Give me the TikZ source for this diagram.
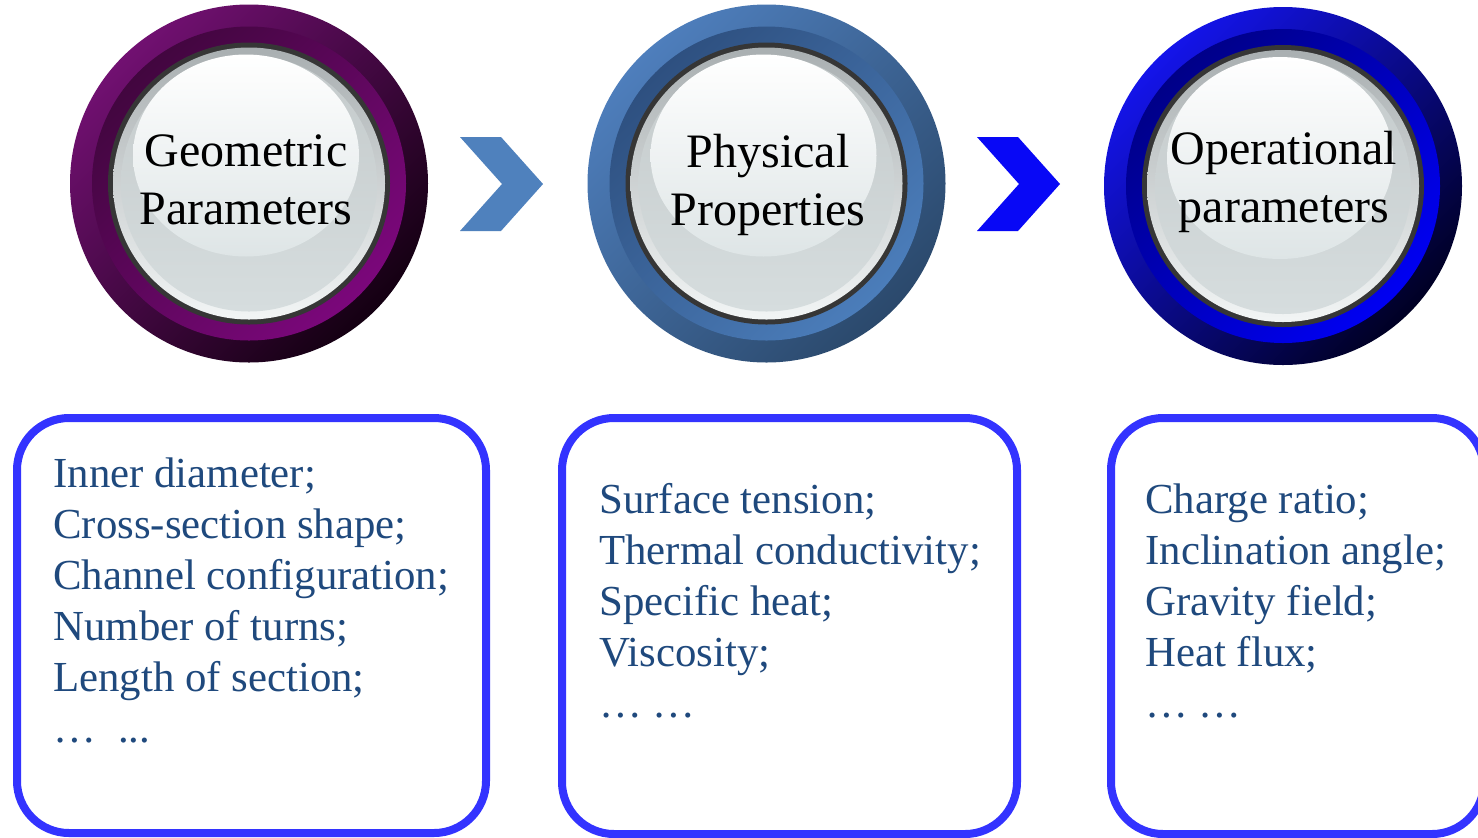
\documentclass[tikz,border=0pt]{standalone}
\usepackage{fontspec}
\setmainfont{Liberation Serif}
\begin{document}
\begin{tikzpicture}[x=0.5pt,y=-0.5pt]
% ---------- colours ----------
\definecolor{plumA}{HTML}{711071}
\definecolor{plumB}{HTML}{140012}
\definecolor{plumC}{HTML}{42063F}
\definecolor{plumD}{HTML}{7B077B}
\definecolor{steelA}{HTML}{4E7EBC}
\definecolor{steelB}{HTML}{2B496C}
\definecolor{steelC}{HTML}{2E5080}
\definecolor{steelD}{HTML}{4B7DBA}
\definecolor{royalA}{HTML}{1414EA}
\definecolor{royalB}{HTML}{000024}
\definecolor{royalC}{HTML}{000088}
\definecolor{royalD}{HTML}{0000F2}
\definecolor{rimdark}{HTML}{363636}
\definecolor{rimtop}{HTML}{A9AFB1}
\definecolor{rimbottom}{HTML}{F2F5F5}
\definecolor{facetop}{HTML}{C4CACB}
\definecolor{facebottom}{HTML}{D6DDDE}
\definecolor{glowbottom}{HTML}{DEE5E6}
\definecolor{chevA}{HTML}{4F81BD}
\definecolor{chevB}{HTML}{0808F6}
\definecolor{boxblue}{HTML}{3333FF}
\definecolor{listblue}{HTML}{1F497D}
% ---------- styles ----------
\tikzset{
  buttonlabel/.style={anchor=base, inner sep=0pt, text=black,
    font=\fontsize{24}{29}\selectfont},
  listbox/.style={draw=boxblue, line width=4pt, rounded corners=26pt,
    inner sep=0pt},
  listtext/.style={anchor=base west, inner sep=0pt, text=listblue,
    font=\fontsize{21.4}{25.5}\selectfont},
}
% glossy round button: centre, outer ring colours, inner ring colours
\newcommand{\glassbutton}[5]{%
  \shade[top color=#2, bottom color=#3, shading angle=45] (#1) circle[radius=89.5pt];
  \shade[top color=#4, bottom color=#5, shading angle=45] (#1) circle[radius=78.5pt];
  \fill[rimdark] (#1) circle[radius=70.5pt];
  \shade[top color=rimtop, bottom color=rimbottom] (#1) circle[radius=68pt];
  \shade[top color=facetop, bottom color=facebottom] (#1) circle[radius=64pt];
  \shade[top color=white, bottom color=glowbottom] ([shift={(-3,-28)}]#1)
    ellipse[x radius=56.5pt, y radius=50.5pt];
}
\useasboundingbox (0,0) rectangle (1478,837);
\fill[white] (0,0) rectangle (1478,837);

% ---------- buttons ----------
\coordinate (c1) at (249,183.5);
\coordinate (c2) at (766.5,183.5);
\coordinate (c3) at (1283,186);
\glassbutton{c1}{plumA}{plumB}{plumC}{plumD}
\glassbutton{c2}{steelA}{steelB}{steelC}{steelD}
\glassbutton{c3}{royalA}{royalB}{royalC}{royalD}

\node[buttonlabel] (t1) at (246,166) {\parbox[t]{170pt}{\centering Geometric\\Parameters}};
\node[buttonlabel] (t2) at (768,167) {\parbox[t]{170pt}{\centering Physical\\Properties}};
\node[buttonlabel] (t3) at (1284,164) {\parbox[t]{170pt}{\centering Operational\\parameters}};

% ---------- chevrons ----------
\fill[chevA] (460,137) -- (501,137) -- (543,184) -- (501,231) -- (460,231) -- (502,184) -- cycle;
\fill[chevB] (977,137) -- (1018,137) -- (1060,184) -- (1018,231) -- (977,231) -- (1019,184) -- cycle;

% ---------- lists ----------
\node[listbox, minimum width=234.5pt, minimum height=207.5pt] (box1) at (251.5,625.5) {};
\node[listbox, minimum width=227.5pt, minimum height=208pt] (box2) at (789.5,626) {};
\node[listbox, minimum width=186.5pt, minimum height=208pt] (box3) at (1297.5,626) {};

\node[listtext] (l1) at (53,487) {\parbox[t]{220pt}{\raggedright
  Inner diameter;\\Cross-section shape;\\Channel configuration;\\Number of turns;\\Length of section;\\%
  …\hspace{11pt}...}};
\node[listtext] (l2) at (599,513) {\parbox[t]{220pt}{\raggedright
  Surface tension;\\Thermal conductivity;\\Specific heat;\\Viscosity;\\… …}};
\node[listtext] (l3) at (1145,513) {\parbox[t]{220pt}{\raggedright
  Charge ratio;\\Inclination angle;\\Gravity field;\\Heat flux;\\… …}};
\end{tikzpicture}
\end{document}
